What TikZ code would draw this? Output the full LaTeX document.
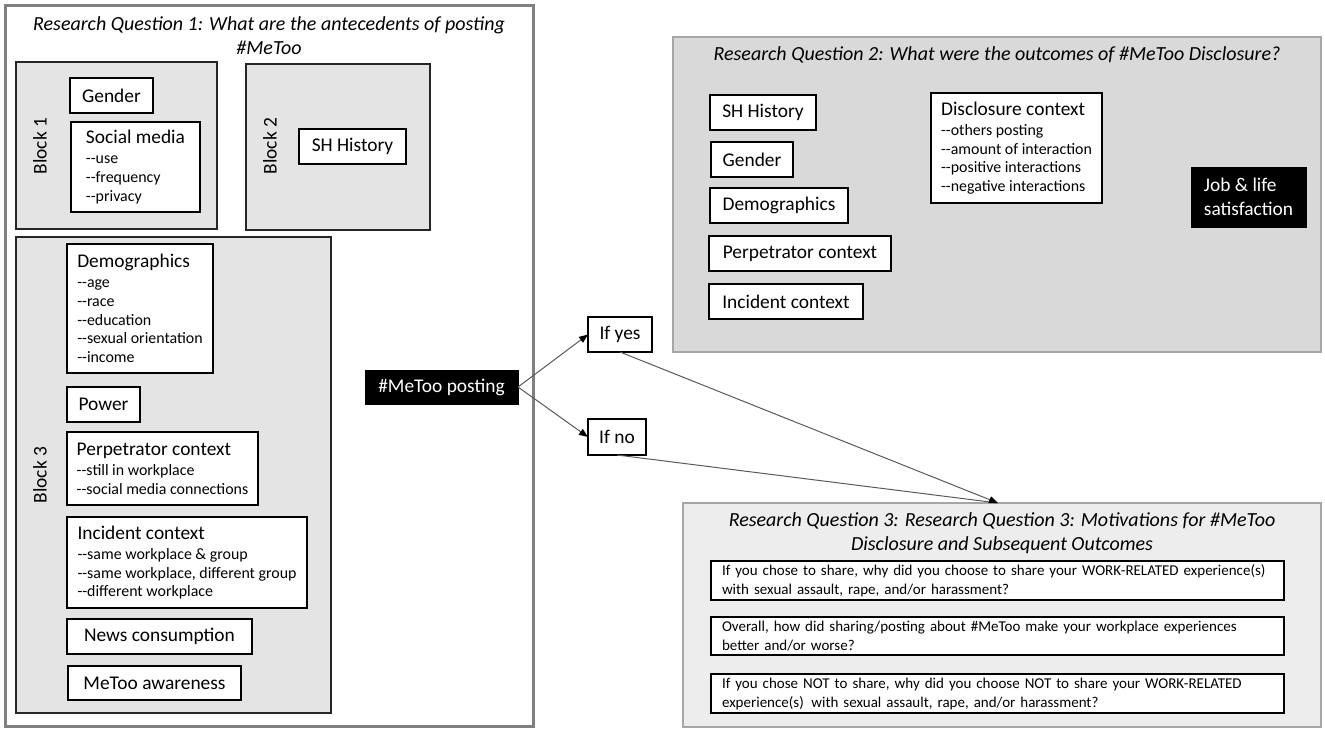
\documentclass[tikz,border=0pt]{standalone}
\usepackage{fontspec}
\setmainfont{Carlito}
\usetikzlibrary{arrows.meta}
\newcommand\mainsz{\fontsize{19.4}{22}\selectfont}
\newcommand\subsz{\fontsize{15.9}{18.7}\selectfont}
\newcommand\ttlsz{\fontsize{20}{24}\selectfont\itshape}
\newcommand\qsz{\fontsize{15}{19}\selectfont}
\newcommand\twohy{-{}-}
\definecolor{blockfill}{HTML}{E4E4E4}
\definecolor{rqtwofill}{HTML}{D9D9D9}
\definecolor{rqthreefill}{HTML}{EDEDED}
\definecolor{framegray}{HTML}{808080}
\definecolor{lightframe}{HTML}{A6A6A6}
\definecolor{linegray}{HTML}{5A5A5A}
\begin{document}
\begin{tikzpicture}[x=1pt,y=-1pt,
  every node/.style={inner sep=0pt, outer sep=0pt},
  box/.style={draw=black, fill=white, line width=1.1pt, anchor=north west, align=left, font=\mainsz},
  listbox/.style={box, font=\subsz},
  blackbox/.style={draw=black, fill=black, text=white, anchor=north west, align=left, font=\mainsz},
  blockbox/.style={draw=black!85, fill=blockfill, line width=1.1pt, anchor=north west},
  frameone/.style={draw=framegray, fill=white, line width=3pt, anchor=north west},
  frametwo/.style={draw=lightframe, fill=rqtwofill, line width=1.8pt, anchor=north west},
  framethree/.style={draw=lightframe, fill=rqthreefill, line width=1.8pt, anchor=north west},
  blklabel/.style={rotate=90, font=\mainsz},
  ttl/.style={font=\ttlsz, align=center},
  qbox/.style={draw=black, fill=white, line width=1.1pt, anchor=north west, align=left, font=\qsz, text width=551pt, inner xsep=11pt, minimum width=573pt},
  conn/.style={draw=linegray, line width=1pt},
  arr/.style={conn, -{Triangle[length=9pt,width=7pt,black]}}
]
\useasboundingbox (0,0) rectangle (1325,731);

% ---------- Research Question 1 ----------
\node[frameone, minimum width=528pt, minimum height=721pt] (rq1) at (5,5) {};
\node[ttl] (t1) at (269,36) {Research Question 1: What are the antecedents of posting\\\#MeToo};

\node[blockbox, minimum width=201pt, minimum height=167pt] (blk1) at (16,62) {};
\node[blklabel] (b1l) at (40,146) {Block 1};
\node[box, minimum width=83pt, minimum height=35pt] (gen1) at (70,78) {Gender};
\node[listbox, minimum width=129pt, minimum height=90pt] (soc) at (71,122)
  {{\mainsz Social media}\\[1pt]\twohy use\\\twohy frequency\\\twohy privacy};

\node[blockbox, minimum width=184pt, minimum height=166pt] (blk2) at (246,64) {};
\node[blklabel] (b2l) at (270,146) {Block 2};
\node[box, minimum width=107pt, minimum height=35pt] (sh1) at (299,129) {SH History};

\node[blockbox, minimum width=315pt, minimum height=476pt] (blk3) at (16,237) {};
\node[blklabel] (b3l) at (40,475) {Block 3};
\node[listbox, minimum width=146pt, minimum height=129pt] (dem1) at (67,244)
  {{\mainsz Demographics}\\[1.5pt]\twohy age\\\twohy race\\\twohy education\\\twohy sexual orientation\\\twohy income};
\node[box, minimum width=73pt, minimum height=35pt] (pow) at (67,387) {Power};
\node[listbox, minimum width=191pt, minimum height=73pt] (perp1) at (67,432)
  {{\mainsz Perpetrator context}\\[1.5pt]\twohy still in workplace\\\twohy social media connections};
\node[listbox, minimum width=240pt, minimum height=91pt] (inc1) at (67,517)
  {{\mainsz Incident context}\\[1.5pt]\twohy same workplace \& group\\\twohy same workplace, different group\\\twohy different workplace};
\node[box, minimum width=185pt, minimum height=35pt] (news) at (67,619) {News consumption};
\node[box, minimum width=173pt, minimum height=34pt] (aware) at (68,666) {MeToo awareness};

\node[blackbox, minimum width=153pt, minimum height=34pt] (post) at (365,370) {\#MeToo posting};

% ---------- branches ----------
\node[box, minimum width=64pt, minimum height=35pt] (yes) at (588,317) {If yes};
\node[box, minimum width=58pt, minimum height=36pt] (no) at (588,419) {If no};

% ---------- Research Question 2 ----------
\node[frametwo, minimum width=648pt, minimum height=315pt] (rq2) at (673,37) {};
\node[ttl] (t2) at (997,55) {Research Question 2: What were the outcomes of \#MeToo Disclosure?};
\node[box, minimum width=106pt, minimum height=35pt] (sh2) at (710,95) {SH History};
\node[box, minimum width=82pt, minimum height=35pt] (gen2) at (711,142) {Gender};
\node[box, minimum width=138pt, minimum height=35pt] (dem2) at (710,188) {Demographics};
\node[box, minimum width=182pt, minimum height=35pt] (perp2) at (709,236) {Perpetrator context};
\node[box, minimum width=154pt, minimum height=35pt] (inc2) at (709,284) {Incident context};
\node[listbox, minimum width=171pt, minimum height=110pt] (disc) at (931,93)
  {{\mainsz Disclosure context}\\[1.5pt]\twohy others posting\\\twohy amount of interaction\\\twohy positive interactions\\\twohy negative interactions};
\node[blackbox, minimum width=115pt, minimum height=60pt, font=\fontsize{19.4}{24}\selectfont] (job) at (1191,167) {Job \& life\\satisfaction};

% ---------- Research Question 3 ----------
\node[framethree, minimum width=638pt, minimum height=224pt] (rq3) at (683,503) {};
\node[ttl] (t3) at (1002,533) {Research Question 3: Research Question 3: Motivations for \#MeToo\\Disclosure and Subsequent Outcomes};
\node[qbox, minimum height=39pt] (q1) at (711,561)
  {\mbox{If you chose to share, why did you choose to share your WORK-RELATED experience(s)}\\\mbox{with sexual assault, rape, and/or harassment?}};
\node[qbox, minimum height=38pt] (q2) at (711,617)
  {\mbox{Overall, how did sharing/posting about \#MeToo make your workplace experiences}\\\mbox{better and/or worse?}};
\node[qbox, minimum height=39pt] (q3) at (711,674)
  {\mbox{If you chose NOT to share, why did you choose NOT to share your WORK-RELATED}\\\mbox{experience(s)\, with sexual assault, rape, and/or harassment?}};

% ---------- connectors ----------
\coordinate (tip) at (998,503);
\draw[arr] (post.east) -- (yes.west);
\draw[arr] (post.east) -- (no.west);
\draw[conn] (no.south) -- (tip);
\draw[arr] (yes.south) -- (tip);
\end{tikzpicture}
\end{document}
